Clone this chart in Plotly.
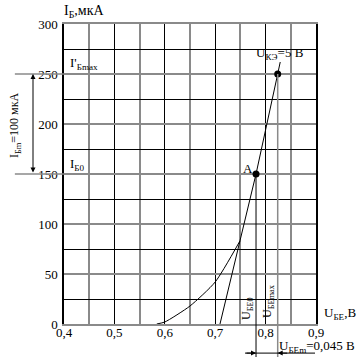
import plotly.graph_objects as go

# Input characteristic (curved part)
curve_u = [0.584, 0.60, 0.65, 0.70, 0.749]
curve_i = [0, 2, 18, 42, 83]
# Straight (tangent) part
line_u = [0.7095, 0.781, 0.824, 0.829]
line_i = [0, 150, 250, 262]
# Marked points
pt_u = [0.781, 0.824]
pt_i = [150, 250]

x_major = [0.4, 0.5, 0.6, 0.7, 0.8, 0.9]
x_major_text = ["0,4", "0,5", "0,6", "0,7", "0,8", "0,9"]
x_minor = [0.45, 0.55, 0.65, 0.75, 0.85]
y_major = [0, 50, 100, 150, 200, 250, 300]
y_minor = [25, 75, 125, 175, 225, 275]

FONT = "Liberation Serif, Times New Roman, serif"
GRAY = "#8a8a8a"

fig = go.Figure()
fig.add_trace(go.Scatter(x=curve_u, y=curve_i, mode="lines",
                         line=dict(color="black", width=1, shape="spline", smoothing=0.6),
                         hoverinfo="skip"))
fig.add_trace(go.Scatter(x=line_u, y=line_i, mode="lines",
                         line=dict(color="black", width=1), hoverinfo="skip"))
fig.add_trace(go.Scatter(x=pt_u, y=pt_i, mode="markers",
                         marker=dict(color="black", size=7), cliponaxis=False))

shapes = []
# vertical drop lines U_BE0 and U_BEmax, extending below the axis
shapes.append(dict(type="line", xref="x", yref="paper", x0=pt_u[0], x1=pt_u[0],
                   y0=pt_i[0] / 300, y1=-0.11, line=dict(color="black", width=1)))
shapes.append(dict(type="line", xref="x", yref="paper", x0=pt_u[1], x1=pt_u[1],
                   y0=pt_i[1] / 300, y1=-0.11, line=dict(color=GRAY, width=1.5)))
# horizontal extensions of I=250 and I=150 to the left
for v in pt_i:
    shapes.append(dict(type="line", xref="paper", yref="y", x0=-0.195, x1=0, y0=v, y1=v,
                       line=dict(color=GRAY, width=1.5)))
# bottom horizontal line for U_BEm dimension
shapes.append(dict(type="line", xref="paper", yref="paper", x0=(245 - 64) / 252, x1=(315 - 64) / 252,
                   y0=-0.097, y1=-0.097, line=dict(color="black", width=1)))

ann = []
def txt(x, y, text, size=12, angle=0, xanchor="left", yanchor="middle"):
    ann.append(dict(x=x, y=y, xref="paper", yref="paper", text=text, showarrow=False,
                    textangle=angle, xanchor=xanchor, yanchor=yanchor,
                    font=dict(family=FONT, size=size, color="black")))

def px(xp, yp):
    return (xp - 64) / 252, (324 - yp) / 300

x, y = px(62, 12); txt(x, y, "I<sub>Б</sub>,мкА", 14)
x, y = px(68, 64); txt(x, y, "I'<sub>Бmax</sub>", 13)
x, y = px(68, 164); txt(x, y, "I<sub>Б0</sub>", 13)
x, y = px(241, 168); txt(x, y, "A", 13)
x, y = px(254, 53); txt(x, y, "U<sub>КЭ</sub>=5 В", 13)
x, y = px(322, 313); txt(x, y, "U<sub>БЕ</sub>,В", 13)
x, y = px(277, 346); txt(x, y, "U<sub>БЕm</sub>=0,045 В", 13)
x, y = px(247, 309); txt(x, y, "U<sub>БЕ0</sub>", 12, angle=-90, xanchor="center")
x, y = px(268, 301); txt(x, y, "U<sub>БЕmax</sub>", 12, angle=-90, xanchor="center")
x, y = px(15, 125); txt(x, y, "I<sub>Бm</sub>=100 мкА", 12, angle=-90, xanchor="center")

# double arrow I_Bm
ax_x, _ = px(33, 0)
ann.append(dict(x=ax_x, y=250, xref="paper", yref="y", ax=0, ay=100, axref="pixel", ayref="pixel",
                showarrow=True, arrowhead=2, startarrowhead=2, arrowside="end+start",
                arrowsize=1, arrowwidth=1, arrowcolor="black", text="", standoff=0, startstandoff=0))
# small arrows to U_BE0 and U_BEmax lines
ann.append(dict(x=pt_u[0], y=-0.097, xref="x", yref="paper", ax=-11, ay=0,
                showarrow=True, arrowhead=2, arrowsize=1, arrowwidth=1, arrowcolor="black", text=""))
ann.append(dict(x=pt_u[1], y=-0.097, xref="x", yref="paper", ax=11, ay=0,
                showarrow=True, arrowhead=2, arrowsize=1, arrowwidth=1, arrowcolor="black", text=""))

fig.update_layout(
    width=357, height=364,
    margin=dict(l=64, r=41, t=24, b=40, autoexpand=False),
    paper_bgcolor="white", plot_bgcolor="white",
    showlegend=False,
    font=dict(family=FONT, size=13, color="black"),
    shapes=shapes, annotations=ann,
    xaxis=dict(range=[0.4, 0.9], tickvals=x_major, ticktext=x_major_text,
               showgrid=True, gridcolor="black", gridwidth=1, zeroline=False,
               minor=dict(tickvals=x_minor, showgrid=True, gridcolor=GRAY, gridwidth=2, ticklen=0),
               ticks="", showline=True, linecolor=GRAY, linewidth=2, mirror=True,
               ticklabelstandoff=-5,
               tickfont=dict(family=FONT, size=13), automargin=False),
    yaxis=dict(range=[0, 300], tickvals=y_major,
               showgrid=True, gridcolor=GRAY, gridwidth=2, zeroline=False,
               minor=dict(tickvals=y_minor, showgrid=True, gridcolor="black", gridwidth=1, ticklen=0),
               ticks="", showline=True, linecolor="black", linewidth=1.5, mirror=True,
               ticklabelstandoff=2,
               tickfont=dict(family=FONT, size=13), automargin=False),
)

fig.write_html("out.html", config={"displayModeBar": False},
               post_script="document.body.style.margin='0';")
